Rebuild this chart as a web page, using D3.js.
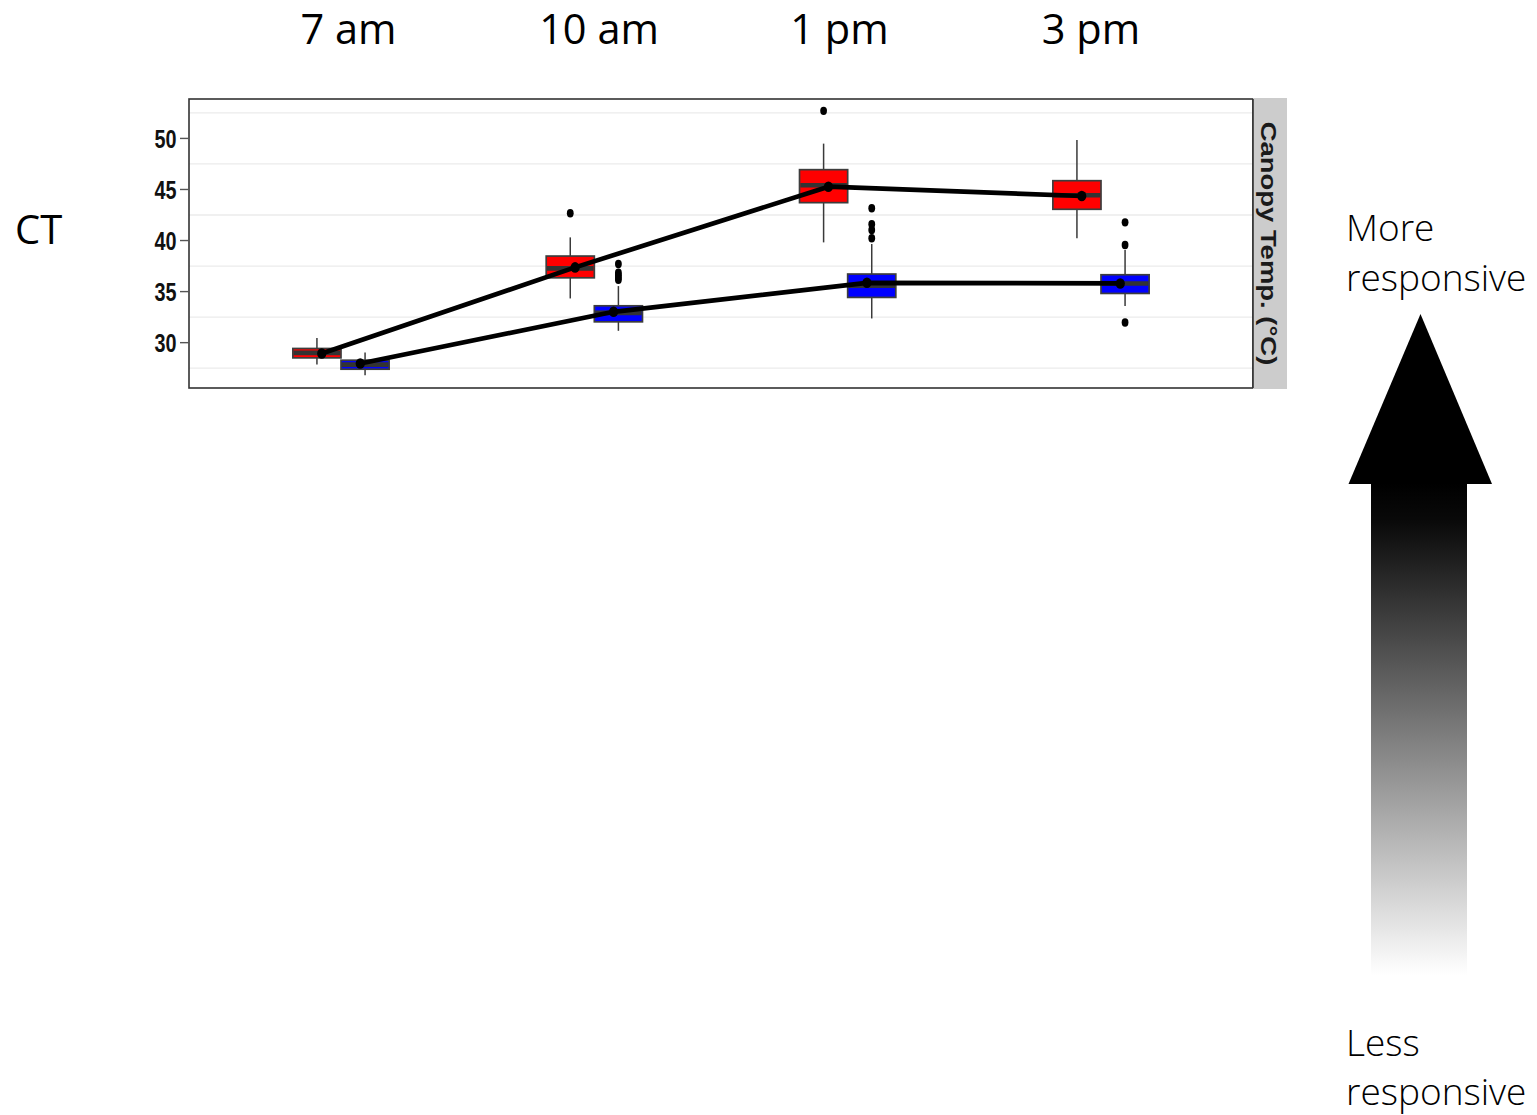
<!DOCTYPE html>
<html>
<head>
<meta charset="utf-8">
<script src="https://cdn.jsdelivr.net/npm/d3@7"></script>
<style>
  html, body { margin: 0; padding: 0; background: #fff; }
  svg { display: block; }
</style>
</head>
<body>
<svg id="chart" width="1537" height="1115"></svg>
<script>
// Sampling times (x categories)
const times = ["7 am", "10 am", "1 pm", "3 pm"];

// Canopy temperature (°C) box statistics, line A (red)
const aLow  = [27.85, 34.33, 39.82, 40.22];
const aQ1   = [28.51, 36.35, 43.71, 43.06];
const aMed  = [29.00, 37.27, 45.41, 44.43];
const aQ3   = [29.43, 38.48, 46.94, 45.86];
const aHigh = [30.45, 40.31, 49.49, 49.85];
const aMean = [28.94, 37.37, 45.27, 44.36];
const aOut  = [[], [42.67], [52.70], []];

// Canopy temperature (°C) box statistics, line B (blue)
const bLow  = [26.80, 31.16, 32.37, 33.58];
const bQ1   = [27.40, 32.04, 34.43, 34.82];
const bMed  = [27.85, 32.92, 35.57, 35.80];
const bQ3   = [28.28, 33.61, 36.72, 36.65];
const bHigh = [29.04, 35.54, 39.66, 39.07];
const bMean = [27.96, 33.02, 35.86, 35.80];
const bOut  = [[], [37.70, 36.85, 36.60, 36.35, 36.15], [43.16, 41.59, 41.03, 40.22], [41.78, 39.56, 31.98]];

// y-axis tick values and minor grid values
const yTicks = [30, 35, 40, 45, 50];
const yMinor = [27.5, 32.5, 37.5, 42.5, 47.5, 52.5];

// Strip and side labels
const stripLabel = "Canopy Temp. (°C)";
const rowLabel = "CT";
const topNote = ["More", "responsive"];
const bottomNote = ["Less", "responsive"];

// ---------------------------------------------------------------
const series = [
  { fill: "#ff0000", side: -1, low: aLow, q1: aQ1, med: aMed, q3: aQ3, high: aHigh, mean: aMean, out: aOut },
  { fill: "#0000ff", side: 1,  low: bLow, q1: bQ1, med: bMed, q3: bQ3, high: bHigh, mean: bMean, out: bOut }
];

const svg = d3.select("#chart");

const panel = { left: 189, right: 1253, top: 99, bottom: 388 };
const x = d3.scalePoint().domain(times).range([panel.left, panel.right]).padding(0.6);
const y = d3.scaleLinear().domain([25.56, 53.86]).range([panel.bottom, panel.top]);

const step = x.step();
const boxW = step * 0.19;
const boxOff = step * 0.095;
const meanOff = step * 0.076;
const vStretch = 1.2;   // plot text is drawn taller than wide

// Panel background + minor gridlines
svg.append("rect")
  .attr("x", panel.left).attr("y", panel.top)
  .attr("width", panel.right - panel.left).attr("height", panel.bottom - panel.top)
  .attr("fill", "#fff");

svg.append("g").selectAll("line").data(yMinor).join("line")
  .attr("x1", panel.left).attr("x2", panel.right)
  .attr("y1", d => y(d)).attr("y2", d => y(d))
  .attr("stroke", "#ebebeb").attr("stroke-width", 1.3);

// Boxplots
series.forEach(s => {
  const g = svg.append("g");
  times.forEach((t, i) => {
    const cx = x(t) + s.side * boxOff;
    // whiskers
    g.append("line")
      .attr("x1", cx).attr("x2", cx)
      .attr("y1", y(s.q3[i])).attr("y2", y(s.high[i]))
      .attr("stroke", "#3a3a3a").attr("stroke-width", 1.5);
    g.append("line")
      .attr("x1", cx).attr("x2", cx)
      .attr("y1", y(s.q1[i])).attr("y2", y(s.low[i]))
      .attr("stroke", "#3a3a3a").attr("stroke-width", 1.5);
    // box
    g.append("rect")
      .attr("x", cx - boxW / 2).attr("width", boxW)
      .attr("y", y(s.q3[i])).attr("height", y(s.q1[i]) - y(s.q3[i]))
      .attr("fill", s.fill).attr("stroke", "#3d3d3d").attr("stroke-width", 1.7);
    // median
    g.append("line")
      .attr("x1", cx - boxW / 2 + 0.8).attr("x2", cx + boxW / 2 - 0.8)
      .attr("y1", y(s.med[i])).attr("y2", y(s.med[i]))
      .attr("stroke", "#333").attr("stroke-width", 4.6);
    // outliers
    g.selectAll(null).data(s.out[i]).join("ellipse")
      .attr("cx", cx).attr("cy", d => y(d))
      .attr("rx", 3.4).attr("ry", 4.2)
      .attr("fill", "#000");
  });
});

// Mean lines and points
series.forEach(s => {
  const pts = times.map((t, i) => [x(t) + s.side * meanOff, y(s.mean[i])]);
  svg.append("path")
    .attr("d", d3.line()(pts))
    .attr("fill", "none").attr("stroke", "#000").attr("stroke-width", 4.7)
    .attr("stroke-linejoin", "round");
  svg.append("g").selectAll("ellipse").data(pts).join("ellipse")
    .attr("cx", d => d[0]).attr("cy", d => d[1])
    .attr("rx", 4.6).attr("ry", 5.3).attr("fill", "#000");
});

// Panel frame
svg.append("rect")
  .attr("x", panel.left).attr("y", panel.top)
  .attr("width", panel.right - panel.left).attr("height", panel.bottom - panel.top)
  .attr("fill", "none").attr("stroke", "#333").attr("stroke-width", 1.6);

// Y axis ticks + labels
const yAxis = svg.append("g");
yAxis.selectAll("line").data(yTicks).join("line")
  .attr("x1", 180).attr("x2", panel.left)
  .attr("y1", d => y(d)).attr("y2", d => y(d))
  .attr("stroke", "#555").attr("stroke-width", 1.4);
yAxis.selectAll("text").data(yTicks).join("text")
  .attr("transform", d => `translate(176.5,${y(d)}) scale(0.9,${vStretch})`)
  .attr("text-anchor", "end").attr("dy", "0.36em")
  .attr("font-family", "'Liberation Sans', Arial, sans-serif")
  .attr("font-weight", "bold").attr("font-size", 22)
  .attr("fill", "#111")
  .text(d => d);

// Facet strip on the right
svg.append("rect")
  .attr("x", panel.right).attr("y", panel.top - 1)
  .attr("width", 34).attr("height", panel.bottom - panel.top + 2)
  .attr("fill", "#cccccc");
svg.append("text")
  .attr("transform", `translate(${panel.right + 16},${(panel.top + panel.bottom) / 2}) rotate(90) scale(1.22,1)`)
  .attr("text-anchor", "middle").attr("dy", "0.36em")
  .attr("font-family", "'Liberation Sans', Arial, sans-serif")
  .attr("font-weight", "bold").attr("font-size", 22.5)
  .attr("fill", "#1a1a1a")
  .text(stripLabel);
svg.append("line")
  .attr("x1", panel.right).attr("x2", panel.right)
  .attr("y1", panel.top).attr("y2", panel.bottom)
  .attr("stroke", "#333").attr("stroke-width", 1.6);

// Column headers (times)
const headerCenters = [348.5, 599, 839.5, 1091];
svg.append("g").selectAll("text").data(times).join("text")
  .attr("x", (d, i) => headerCenters[i]).attr("y", 44)
  .attr("text-anchor", "middle")
  .attr("font-family", "'Open Sans', sans-serif")
  .attr("font-size", 41.5)
  .attr("fill", "#000")
  .text(d => d);

// Row label
svg.append("text")
  .attr("x", 15).attr("y", 244)
  .attr("font-family", "'Open Sans', sans-serif")
  .attr("font-size", 40).attr("fill", "#000")
  .text(rowLabel);

// Responsiveness arrow with black-to-white gradient shaft
const defs = svg.append("defs");
const grad = defs.append("linearGradient")
  .attr("id", "shaftFade").attr("x1", 0).attr("y1", 0).attr("x2", 0).attr("y2", 1);
grad.append("stop").attr("offset", "0%").attr("stop-color", "#000");
grad.append("stop").attr("offset", "8%").attr("stop-color", "#0a0a0a");
grad.append("stop").attr("offset", "100%").attr("stop-color", "#fff");

svg.append("rect")
  .attr("x", 1371).attr("y", 483)
  .attr("width", 96).attr("height", 492)
  .attr("fill", "url(#shaftFade)");
svg.append("path")
  .attr("d", "M1420.5,314 L1492,484 L1348.5,484 Z")
  .attr("fill", "#000");

const noteFont = "'Open Sans', sans-serif";
svg.append("g").selectAll("text").data(topNote).join("text")
  .attr("x", 1346).attr("y", (d, i) => 241 + i * 50)
  .attr("font-family", noteFont).attr("font-weight", 300)
  .attr("font-size", 37).attr("fill", "#000")
  .text(d => d);
svg.append("g").selectAll("text").data(bottomNote).join("text")
  .attr("x", 1346).attr("y", (d, i) => 1056 + i * 49)
  .attr("font-family", noteFont).attr("font-weight", 300)
  .attr("font-size", 37).attr("fill", "#000")
  .text(d => d);
</script>
</body>
</html>
